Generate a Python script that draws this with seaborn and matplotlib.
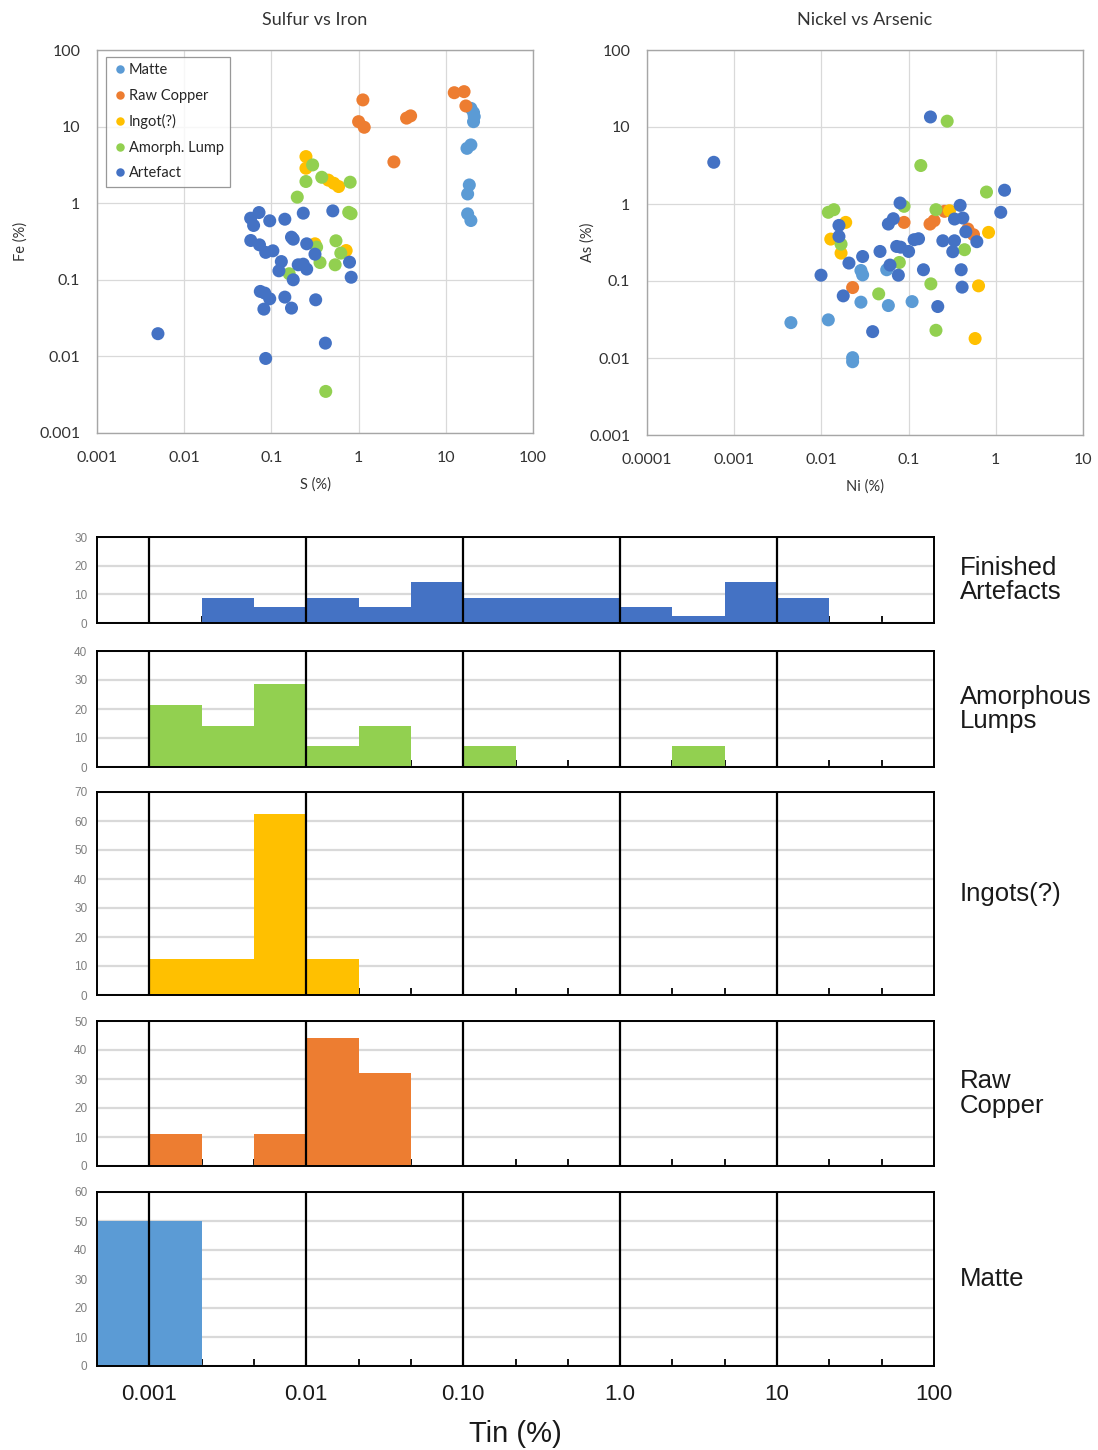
import numpy as np
import pandas as pd
import matplotlib
matplotlib.use("Agg")
import matplotlib.pyplot as plt
import seaborn as sns
from matplotlib.ticker import FixedLocator, FuncFormatter, NullFormatter

# ---------------- data ----------------
groups = ["Matte", "Raw Copper", "Ingot(?)", "Amorph. Lump", "Artefact"]
palette = {"Matte": "#5B9BD5", "Raw Copper": "#ED7D31", "Ingot(?)": "#FFC000",
           "Amorph. Lump": "#92D050", "Artefact": "#4472C4"}

# Sulfur vs Iron
matte_S = [19.4, 20.8, 21.2, 20.8, 19.4, 17.5, 18.6, 17.8, 17.8, 19.4]
matte_Fe = [17.3, 15.2, 13.5, 11.6, 5.77, 5.2, 1.73, 1.32, 0.726, 0.594]
raw_S = [12.5, 16.2, 17.0, 1.12, 1.0, 1.16, 3.55, 3.95, 2.54]
raw_Fe = [27.7, 28.6, 18.6, 22.3, 11.6, 9.8, 12.9, 13.8, 3.46]
ingot_S = [0.249, 0.249, 0.45, 0.52, 0.59, 0.72, 0.316]
ingot_Fe = [4.06, 2.86, 2.0, 1.82, 1.65, 0.241, 0.295]
amorph_S = [0.297, 0.249, 0.378, 0.80, 0.198, 0.77, 0.82, 0.55, 0.33, 0.625,
            0.361, 0.538, 0.16, 0.42]
amorph_Fe = [3.16, 1.92, 2.18, 1.88, 1.2, 0.76, 0.73, 0.323, 0.267, 0.223,
             0.168, 0.157, 0.12, 0.00349]
artefact_S = [0.005, 0.086, 0.416, 0.0578, 0.0721, 0.0625, 0.0957, 0.1426, 0.232,
              0.506, 0.058, 0.073, 0.086, 0.104, 0.17, 0.178, 0.254, 0.316, 0.130,
              0.122, 0.203, 0.232, 0.254, 0.178, 0.787, 0.822, 0.0746, 0.084,
              0.0957, 0.1426, 0.082, 0.17, 0.322]
artefact_Fe = [0.0198, 0.0094, 0.0149, 0.637, 0.755, 0.512, 0.589, 0.618, 0.741,
               0.794, 0.326, 0.286, 0.228, 0.239, 0.36, 0.339, 0.295, 0.216, 0.173,
               0.131, 0.157, 0.16, 0.138, 0.1, 0.17, 0.108, 0.0705, 0.067, 0.0565,
               0.0594, 0.0414, 0.0427, 0.0548]

# Nickel vs Arsenic
matte_Ni = [0.00447, 0.012, 0.0284, 0.0297, 0.0561, 0.0284, 0.0586, 0.1096, 0.0228, 0.0228]
matte_As = [0.0288, 0.0313, 0.137, 0.120, 0.140, 0.0531, 0.048, 0.054, 0.0101, 0.00895]
raw_Ni = [0.0887, 0.176, 0.196, 0.258, 0.478, 0.555, 0.0228]
raw_As = [0.577, 0.549, 0.607, 0.803, 0.473, 0.399, 0.0822]
ingot_Ni = [0.019, 0.0128, 0.0168, 0.294, 0.826, 0.634, 0.579]
ingot_As = [0.577, 0.35, 0.230, 0.818, 0.428, 0.0865, 0.0179]
amorph_Ni = [0.277, 0.138, 0.782, 0.012, 0.0139, 0.0887, 0.206, 0.0168, 0.438,
             0.0783, 0.180, 0.0454, 0.206]
amorph_As = [11.9, 3.16, 1.43, 0.78, 0.844, 0.933, 0.844, 0.301, 0.255, 0.174,
             0.0918, 0.068, 0.0229]
artefact_Ni = [0.000583, 0.178, 1.26, 1.14, 0.0798, 0.39, 0.336, 0.419, 0.0668,
               0.0586, 0.0159, 0.0159, 0.453, 0.606, 0.1157, 0.13, 0.247, 0.336,
               0.073, 0.081, 0.1, 0.047, 0.321, 0.0297, 0.0207, 0.0612, 0.0763,
               0.148, 0.401, 0.0099, 0.411, 0.0178, 0.216, 0.0387]
artefact_As = [3.48, 13.5, 1.51, 0.78, 1.03, 0.96, 0.638, 0.657, 0.644, 0.549,
               0.527, 0.379, 0.436, 0.324, 0.344, 0.354, 0.333, 0.333, 0.281,
               0.275, 0.242, 0.242, 0.240, 0.208, 0.171, 0.161, 0.119, 0.140,
               0.140, 0.119, 0.0832, 0.0641, 0.0466, 0.0220]

# Tin histograms: percentage per 1/3-decade bin, from 0.00046 % to 100 %
tin_bin_count = 16
tin_log_range = (-10 / 3, 2)
hist_artefacts = [0, 0, 8.6, 5.7, 8.6, 5.7, 14.3, 8.6, 8.6, 8.6, 5.7, 2.5, 14.3, 8.6, 0, 0]
hist_amorph = [0, 21.4, 14.3, 28.6, 7.1, 14.3, 0, 7.1, 0, 0, 0, 7.1, 0, 0, 0, 0]
hist_ingots = [0, 12.5, 12.5, 62.5, 12.5, 0, 0, 0, 0, 0, 0, 0, 0, 0, 0, 0]
hist_raw = [0, 11.1, 0, 11.1, 44.2, 32.1, 0, 0, 0, 0, 0, 0, 0, 0, 0, 0]
hist_matte = [50, 50, 0, 0, 0, 0, 0, 0, 0, 0, 0, 0, 0, 0, 0, 0]
hist_labels = ["Finished\nArtefacts", "Amorphous\nLumps", "Ingots(?)", "Raw\nCopper", "Matte"]
hist_ymax = [30, 40, 70, 50, 60]
tin_tick_values = [0.001, 0.01, 0.1, 1, 10, 100]
tin_tick_labels = ["0.001", "0.01", "0.10", "1.0", "10", "100"]

# ---------------- style ----------------
sns.set_theme(style="white")
plt.rcParams["font.family"] = ["Lato", "DejaVu Sans"]
ARIAL = ["Liberation Sans", "DejaVu Sans"]

fig = plt.figure(figsize=(10.98, 14.5), dpi=100)
W, H = 1098, 1450


def add_axes_px(left, top, right, bottom):
    return fig.add_axes([left / W, 1 - bottom / H, (right - left) / W, (bottom - top) / H])


def gfmt(v, pos):
    return f"{v:g}"


def build_df(xs, ys, xname, yname):
    rows = []
    for g, xv, yv in zip(groups, xs, ys):
        for a, b in zip(xv, yv):
            rows.append({xname: a, yname: b, "Group": g})
    return pd.DataFrame(rows)


def style_scatter(ax, xlim, title, xlabel, ylabel, ylab_x):
    ax.set_xscale("log")
    ax.set_yscale("log")
    ax.set_xlim(*xlim)
    ax.set_ylim(0.001, 100)
    xt = [10 ** k for k in range(int(round(np.log10(xlim[0]))), int(round(np.log10(xlim[1]))) + 1)]
    yt = [10 ** k for k in range(-3, 3)]
    ax.xaxis.set_major_locator(FixedLocator(xt))
    ax.yaxis.set_major_locator(FixedLocator(yt))
    ax.xaxis.set_major_formatter(FuncFormatter(gfmt))
    ax.yaxis.set_major_formatter(FuncFormatter(gfmt))
    ax.xaxis.set_minor_locator(FixedLocator([]))
    ax.yaxis.set_minor_locator(FixedLocator([]))
    ax.grid(True, which="major", color="#d9d9d9", lw=0.9)
    ax.set_axisbelow(True)
    for s in ax.spines.values():
        s.set_color("#a6a6a6")
        s.set_linewidth(1.0)
    ax.tick_params(axis="x", which="major", direction="in", length=4, color="#a6a6a6",
                   labelsize=11.5, labelcolor="#333333", pad=13)
    ax.tick_params(axis="y", which="major", length=0, labelsize=11.5,
                   labelcolor="#333333", pad=12)
    ax.set_title(title, fontsize=13, color="#333333", pad=18)
    ax.set_xlabel(xlabel, fontsize=10.5, color="#333333", labelpad=9)
    ax.set_ylabel(ylabel, fontsize=10.5, color="#333333")
    ax.yaxis.set_label_coords(ylab_x, 0.5)


# ---------- Scatter 1: Sulfur vs Iron ----------
ax1 = add_axes_px(97, 50, 533, 433)
df1 = build_df([matte_S, raw_S, ingot_S, amorph_S, artefact_S],
               [matte_Fe, raw_Fe, ingot_Fe, amorph_Fe, artefact_Fe], "S", "Fe")
sns.scatterplot(data=df1, x="S", y="Fe", hue="Group", hue_order=groups, palette=palette,
                s=88, linewidth=0, alpha=1, ax=ax1, legend=True)
style_scatter(ax1, (0.001, 100), "Sulfur vs Iron", "S (%)", "Fe (%)", -0.158)
handles, labels = ax1.get_legend_handles_labels()
leg = ax1.legend(handles, labels, loc="upper left", bbox_to_anchor=(0.021, 0.982),
                 borderaxespad=0, frameon=True, fancybox=False, edgecolor="#7f7f7f",
                 fontsize=10.5, markerscale=0.65, handletextpad=0.1, handlelength=1.0,
                 labelspacing=0.78, borderpad=0.45)
leg.get_frame().set_linewidth(0.9)
for t in leg.get_texts():
    t.set_color("#262626")

# ---------- Scatter 2: Nickel vs Arsenic ----------
ax2 = add_axes_px(647, 50, 1083, 435)
df2 = build_df([matte_Ni, raw_Ni, ingot_Ni, amorph_Ni, artefact_Ni],
               [matte_As, raw_As, ingot_As, amorph_As, artefact_As], "Ni", "As")
sns.scatterplot(data=df2, x="Ni", y="As", hue="Group", hue_order=groups, palette=palette,
                s=88, linewidth=0, alpha=1, ax=ax2, legend=False)
style_scatter(ax2, (0.0001, 10), "Nickel vs Arsenic", "Ni (%)", "As (%)", -0.119)

# ---------- Tin histograms ----------
panels_px = [(537, 623), (651, 767), (792, 995), (1021, 1166), (1192, 1366)]
hist_data = [hist_artefacts, hist_amorph, hist_ingots, hist_raw, hist_matte]
hist_colors = [palette["Artefact"], palette["Amorph. Lump"], palette["Ingot(?)"],
               palette["Raw Copper"], palette["Matte"]]

edges_log = np.linspace(tin_log_range[0], tin_log_range[1], tin_bin_count + 1)
centers = 10 ** ((edges_log[:-1] + edges_log[1:]) / 2)
minor_edges = [10 ** e for e in edges_log[1:-1] if abs(e - round(e)) > 1e-6]

for i, ((top, bot), vals, col, lab, ymax) in enumerate(
        zip(panels_px, hist_data, hist_colors, hist_labels, hist_ymax)):
    ax = add_axes_px(97, top, 934, bot)
    sns.histplot(x=centers, weights=vals, bins=tin_bin_count, binrange=tin_log_range,
                 log_scale=True, color=col, alpha=1, linewidth=0, ax=ax)
    ax.set_xlim(10 ** tin_log_range[0], 10 ** tin_log_range[1])
    ax.set_ylim(0, ymax)
    ax.set_yticks(np.arange(0, ymax + 1, 10))
    ax.yaxis.grid(True, color="#d9d9d9", lw=1.6)
    ax.xaxis.grid(False)
    ax.set_axisbelow(True)
    for d in tin_tick_values[:-1]:
        ax.axvline(d, color="black", lw=1.6, zorder=4)
    for s in ax.spines.values():
        s.set_color("black")
        s.set_linewidth(1.4)
        s.set_zorder(5)
    ax.xaxis.set_major_locator(FixedLocator(tin_tick_values))
    ax.xaxis.set_minor_locator(FixedLocator(minor_edges))
    ax.xaxis.set_minor_formatter(NullFormatter())
    ax.tick_params(axis="x", which="minor", direction="in", length=5, width=1.3,
                   color="black", bottom=True, top=False)
    ax.tick_params(axis="x", which="major", length=0, pad=13)
    ax.tick_params(axis="y", which="major", length=0, pad=7, labelsize=8.5,
                   labelcolor="#808080")
    for t in ax.get_yticklabels():
        t.set_family(ARIAL)
    ax.set_ylabel("")
    if i == len(panels_px) - 1:
        ax.set_xticklabels(tin_tick_labels, fontsize=16, color="#1a1a1a", family=ARIAL)
        ax.set_xlabel("Tin (%)", fontsize=21, color="#1a1a1a", family=ARIAL, labelpad=11)
    else:
        ax.set_xticklabels([])
        ax.set_xlabel("")
    ax.text(1.031, 0.5, lab, transform=ax.transAxes, ha="left", va="center",
            fontsize=18.5, color="#1a1a1a", family=ARIAL, linespacing=1.0)

fig.savefig("out.png", dpi=100)
